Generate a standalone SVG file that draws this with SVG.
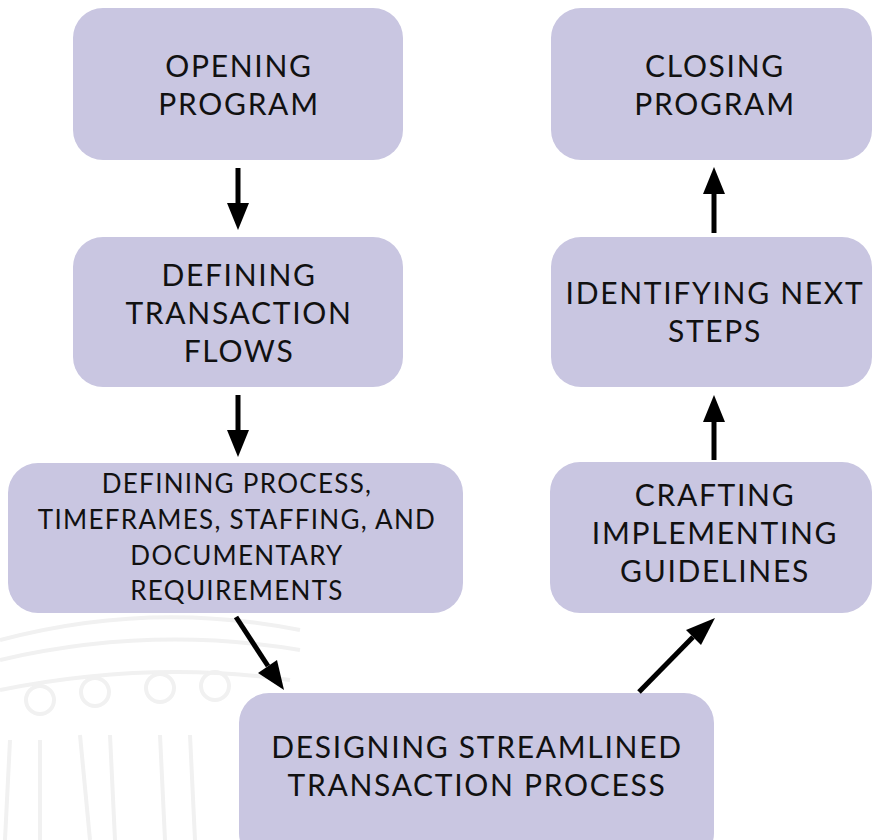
<svg xmlns="http://www.w3.org/2000/svg" width="872" height="840" viewBox="0 0 872 840">
<defs>
<style>
.box{fill:#c9c6e1;}
.t{font-family:Lato,"Open Sans","Liberation Sans",sans-serif;font-size:30px;letter-spacing:1.7px;fill:#111;text-anchor:middle;}
.s{font-size:26px;letter-spacing:1.3px;}
.c{stroke:#000;stroke-width:5;fill:none;}
.h{fill:#000;}
.wm{fill:none;stroke:#f1f1f1;stroke-width:4;}
</style>
</defs>
<rect width="872" height="840" fill="#fff"/>
<g id="watermark">
<path class="wm" d="M0,640 Q150,600 300,630"/>
<path class="wm" d="M0,660 Q150,625 300,650"/>
<path class="wm" d="M0,690 Q150,660 290,680"/>
<circle class="wm" cx="40" cy="700" r="14"/>
<circle class="wm" cx="95" cy="692" r="14"/>
<circle class="wm" cx="160" cy="688" r="14"/>
<circle class="wm" cx="215" cy="686" r="14"/>
<path class="wm" d="M10,740 L5,840 M40,740 L40,840 M80,735 L90,840 M110,735 L115,840 M160,735 L165,840 M190,735 L195,840"/>
</g>
<g id="opening"><rect class="box" x="73" y="8" width="330" height="152" rx="30"/>
<text class="t" x="239" y="77">OPENING</text><text class="t" x="239" y="115">PROGRAM</text></g>
<g id="closing"><rect class="box" x="551" y="8" width="321" height="152" rx="30"/>
<text class="t" x="715" y="77">CLOSING</text><text class="t" x="715" y="115">PROGRAM</text></g>
<g id="flows"><rect class="box" x="73" y="237" width="330" height="150" rx="30"/>
<text class="t" x="239" y="286">DEFINING</text><text class="t" x="239" y="324">TRANSACTION</text><text class="t" x="239" y="362">FLOWS</text></g>
<g id="next"><rect class="box" x="551" y="237" width="321" height="150" rx="30"/>
<text class="t" x="715" y="304">IDENTIFYING NEXT</text><text class="t" x="715" y="342">STEPS</text></g>
<g id="process"><rect class="box" x="8" y="463" width="455" height="150" rx="30"/>
<text class="t s" x="237" y="493">DEFINING PROCESS,</text><text class="t s" x="237" y="529">TIMEFRAMES, STAFFING, AND</text><text class="t s" x="237" y="565">DOCUMENTARY</text><text class="t s" x="237" y="600">REQUIREMENTS</text></g>
<g id="crafting"><rect class="box" x="550" y="462" width="322" height="151" rx="30"/>
<text class="t" x="715" y="506">CRAFTING</text><text class="t" x="715" y="544">IMPLEMENTING</text><text class="t" x="715" y="582">GUIDELINES</text></g>
<g id="designing"><rect class="box" x="239" y="693" width="475" height="170" rx="30"/>
<text class="t" x="477" y="758">DESIGNING STREAMLINED</text><text class="t" x="477" y="796">TRANSACTION PROCESS</text></g>
<g id="connectors">
<line class="c" x1="238" y1="168" x2="238" y2="205"/><polygon class="h" points="227,203 249,203 238,230"/>
<line class="c" x1="238" y1="395" x2="238" y2="432"/><polygon class="h" points="227,430 249,430 238,457"/>
<line class="c" x1="236" y1="617" x2="268" y2="666"/><polygon class="h" points="258,673 277,660 284,690"/>
<line class="c" x1="639" y1="692" x2="693" y2="637"/><polygon class="h" points="686,630 701,645 715,618"/>
<line class="c" x1="714" y1="460" x2="714" y2="420"/><polygon class="h" points="703,422 725,422 714,395"/>
<line class="c" x1="714" y1="233" x2="714" y2="192"/><polygon class="h" points="703,194 725,194 714,167"/>
</g>
</svg>
